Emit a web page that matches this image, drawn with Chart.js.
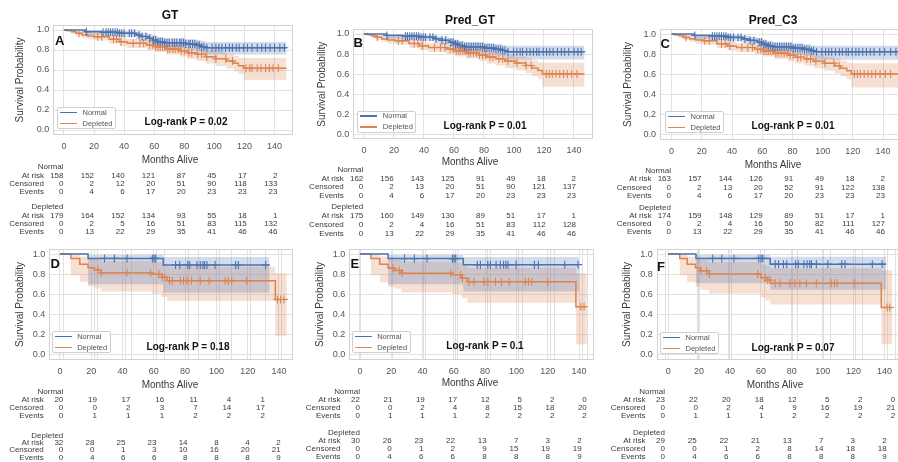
<!DOCTYPE html>
<html><head><meta charset="utf-8">
<script src="https://cdn.jsdelivr.net/npm/chart.js@4.4.1/dist/chart.umd.min.js"></script>
<style>
html,body{margin:0;padding:0;background:#fff;overflow:hidden;width:898px;height:462px;position:relative;font-family:"Liberation Sans",Arial,sans-serif;}
canvas.cv{position:absolute;}
.t{position:absolute;white-space:nowrap;color:#3a3a3a;line-height:14px;height:14px;}
.lg{position:absolute;border:1px solid #cfcfcf;border-radius:2px;background:rgba(255,255,255,0.85);box-sizing:border-box;}
.ln{position:absolute;height:1.5px;}
</style></head><body>
<script>
// ---------- shared axis / label data ----------
const xTicks=[0,20,40,60,80,100,120,140];
const yTicks=[0,0.2,0.4,0.6,0.8,1.0];
const yTickLabels=['0.0','0.2','0.4','0.6','0.8','1.0'];
const rowNames=['At risk','Censored','Events'];
const groupNames=['Normal','Depleted'];
const panelIds=['A','B','C','D','E','F'];
const panelTitles={A:'GT',B:'Pred_GT',C:'Pred_C3'};
const pValues={A:'0.02',B:'0.01',C:'0.01',D:'0.18',E:'0.1',F:'0.07'};

// ---------- Panel A (GT) ----------
const A_normT=[0,14,25,36,48,51,56,59,62,66,81,88,91,94,148];
const A_normS=[1.0,0.983,0.977,0.967,0.95,0.935,0.917,0.90,0.883,0.873,0.86,0.847,0.833,0.823,0.823];
const A_normLo=[1.0,0.95,0.94,0.93,0.905,0.89,0.87,0.85,0.83,0.82,0.80,0.785,0.77,0.755,0.755];
const A_normHi=[1.0,1.0,0.995,0.99,0.98,0.97,0.96,0.945,0.93,0.92,0.91,0.90,0.89,0.88,0.88];
const A_normCens=[15,26,28,29.5,31,32.5,34,35.5,37,38.5,40,43.5,45,47,50,52,54.5,57,59.5,61,62.5,64,65.5,67,68.5,70,72,73.5,75,77,78,79.5,81,83,84,85.5,87,88.5,90,91.5,93,95,98.5,101,103,105,107.5,110,112,114.5,116.5,119.5,122,125,128.5,131.5,134,137,140,143.5,146.5];
const A_deplT=[0,2,5,8,12,16,20,30,37,42,55,61,68,77,82,88,94,101,108,113,116,119.5,148];
const A_deplS=[1.0,0.994,0.983,0.967,0.95,0.94,0.933,0.907,0.883,0.867,0.85,0.833,0.81,0.793,0.773,0.757,0.733,0.713,0.69,0.667,0.643,0.617,0.617];
const A_deplLo=[1.0,0.98,0.965,0.94,0.92,0.905,0.895,0.865,0.84,0.82,0.80,0.78,0.755,0.735,0.71,0.69,0.665,0.64,0.615,0.585,0.56,0.50,0.50];
const A_deplHi=[1.0,1.0,0.995,0.99,0.98,0.97,0.965,0.945,0.925,0.91,0.895,0.88,0.86,0.845,0.83,0.815,0.795,0.78,0.76,0.74,0.72,0.72,0.72];
const A_deplCens=[10,22.5,25,33,35,38,46,50.5,53,57,59,61,62.5,64,65.5,67,69,70.5,72.5,74,76,78,80,83,85,89,91.5,95,101,107.5,112,121,123.5,125,128.5,131,134,136.5,139,142.5];
const A_normRisk=[158,152,140,121,87,45,17,2], A_normCen=[0,2,12,20,51,90,118,133], A_normEvt=[0,4,6,17,20,23,23,23];
const A_deplRisk=[179,164,152,134,93,55,18,1], A_deplCen=[0,2,5,16,51,83,115,132], A_deplEvt=[0,13,22,29,35,41,46,46];

// ---------- Panel B (Pred_GT) ----------
const B_normT=[0,15,26,37,47,52,57,60,63,67,80,87,92,95,147];
const B_normS=[1.0,0.985,0.977,0.967,0.952,0.937,0.918,0.90,0.885,0.874,0.86,0.848,0.835,0.824,0.824];
const B_normLo=[1.0,0.952,0.94,0.93,0.908,0.89,0.87,0.85,0.832,0.82,0.80,0.785,0.77,0.745,0.745];
const B_normHi=[1.0,1.0,0.995,0.99,0.98,0.97,0.96,0.945,0.93,0.92,0.91,0.90,0.89,0.884,0.884];
const B_normCens=[15.4,27.7,29,30.5,32,33.5,35,36.5,38,39.5,41,44,46,48,52,54.5,58,59.5,61,62.5,64,65.5,67,68.5,70,71.5,73,74.5,76,77.5,79,80.5,82,83.5,85,86.5,88,89.5,91,92.5,94,96,99.7,101.9,104.1,105.7,108.5,110.7,112.9,115.1,116.7,119.5,121.7,123.9,126.1,129,131.6,133.8,136.5,140,142.6,144.8];
const B_deplT=[0,2,5,8,12,16,21,30,37,43,55,61,68,77,82,88,94,101,108,112,116,119,147];
const B_deplS=[1.0,0.994,0.983,0.967,0.95,0.94,0.933,0.905,0.882,0.866,0.85,0.832,0.81,0.79,0.77,0.753,0.73,0.71,0.686,0.662,0.636,0.601,0.601];
const B_deplLo=[1.0,0.98,0.965,0.94,0.92,0.905,0.895,0.862,0.838,0.82,0.80,0.778,0.753,0.73,0.707,0.686,0.66,0.636,0.61,0.58,0.55,0.475,0.475];
const B_deplHi=[1.0,1.0,0.995,0.99,0.98,0.97,0.965,0.944,0.924,0.91,0.895,0.88,0.86,0.843,0.826,0.81,0.79,0.775,0.755,0.735,0.715,0.714,0.714];
const B_deplCens=[9,23,25.5,33.5,36,39,47,51,54,57.5,59.5,61.5,63,64.5,66,67.5,69.5,71,73,75,77,79,81,84,86,90,92.5,96,102,108,111.5,121.5,123.5,125.5,128,130.5,133,135.5,138.5,142];
const B_normRisk=[162,156,143,125,91,49,18,2], B_normCen=[0,2,13,20,51,90,121,137], B_normEvt=[0,4,6,17,20,23,23,23];
const B_deplRisk=[175,160,149,130,89,51,17,1], B_deplCen=[0,2,4,16,51,83,112,128], B_deplEvt=[0,13,22,29,35,41,46,46];

// ---------- Panel C (Pred_C3) ----------
const C_normT=[0,15,26,37,47,52,57,60,63,67,80,87,92,95,152];
const C_normS=[1.0,0.985,0.977,0.967,0.952,0.937,0.918,0.90,0.885,0.874,0.86,0.848,0.835,0.825,0.825];
const C_normLo=[1.0,0.952,0.94,0.93,0.908,0.89,0.87,0.85,0.832,0.82,0.80,0.785,0.77,0.745,0.745];
const C_normHi=[1.0,1.0,0.995,0.99,0.98,0.97,0.96,0.945,0.93,0.92,0.91,0.90,0.89,0.885,0.885];
const C_normCens=[15.4,27,28.5,30,31.5,33,34.5,36,37.5,39,41,44,46,48.5,52,54.5,58,59.5,61,62.5,64,65.5,67,68.5,70,71.5,73,74.5,76,77.5,79,80.5,82,83.5,85,86.5,88,89.5,91,92.5,94,96,99.5,102,104,106,108.5,111,113,115.5,117,119.5,122,124,126.5,129,131.5,134,137.8,141,145,148.5];
const C_deplT=[0,2,5,8,12,16,21,30,37,43,55,61,68,77,82,88,94,101,108,112,116,119,152];
const C_deplS=[1.0,0.994,0.983,0.967,0.95,0.94,0.933,0.905,0.882,0.866,0.85,0.832,0.81,0.79,0.77,0.753,0.73,0.71,0.686,0.662,0.636,0.604,0.604];
const C_deplLo=[1.0,0.98,0.965,0.94,0.92,0.905,0.895,0.862,0.838,0.82,0.80,0.778,0.753,0.73,0.707,0.686,0.66,0.636,0.61,0.58,0.55,0.47,0.47];
const C_deplHi=[1.0,1.0,0.995,0.99,0.98,0.97,0.965,0.944,0.924,0.91,0.895,0.88,0.86,0.843,0.826,0.81,0.79,0.775,0.755,0.735,0.715,0.71,0.71];
const C_deplCens=[9.5,22,25,33,35.5,38.5,46.5,50.5,53.5,57,59,61,62.5,64,65.5,67,69,70.5,72.5,74.5,76.5,78.5,80.5,83.5,85.5,89.5,92,95.5,101.5,107.5,111,121,123,125,127.5,130,132.5,135,138,141.5,145];
const C_normRisk=[163,157,144,126,91,49,18,2], C_normCen=[0,2,13,20,52,91,122,138], C_normEvt=[0,4,6,17,20,23,23,23];
const C_deplRisk=[174,159,148,129,89,51,17,1], C_deplCen=[0,2,4,16,50,82,111,127], C_deplEvt=[0,13,22,29,35,41,46,46];

// ---------- Panel D ----------
const D_normT=[0,18,66,134];
const D_normS=[1.0,0.957,0.891,0.891];
const D_normLo=[1.0,0.70,0.62,0.62];
const D_normHi=[1.0,0.99,0.97,0.97];
const D_normCens=[28.5,34.8,42.9,59.1,60.2,61.2,73.9,76.6,81.7,83,87.6,89.7,91.4,92.5,94,99.2,112.3,114,131.5];
const D_deplT=[0,7,12.7,18,22,26.4,59,65,68.6,137.7,145];
const D_deplS=[1.0,0.957,0.90,0.864,0.842,0.815,0.799,0.769,0.736,0.55,0.55];
const D_deplLo=[1.0,0.79,0.726,0.68,0.66,0.63,0.61,0.575,0.535,0.19,0.19];
const D_deplHi=[1.0,0.995,0.975,0.955,0.945,0.93,0.92,0.90,0.875,0.81,0.81];
const D_deplCens=[24.3,26.4,42.9,58,63.3,65.5,67,70,71.8,77,79,81.3,84,89.7,95.4,105.6,107.7,109.8,119.3,139,141,143.2];
const D_normRisk=[20,19,17,16,11,4,1], D_normCen=[0,0,2,3,7,14,17], D_normEvt=[0,1,1,1,2,2,2];
const D_deplRisk=[32,28,25,23,14,8,4,2], D_deplCen=[0,0,1,3,10,16,20,21], D_deplEvt=[0,4,6,6,8,8,8,9];

// ---------- Panel E ----------
const E_normT=[0,18,66,140];
const E_normS=[1.0,0.955,0.895,0.895];
const E_normLo=[1.0,0.70,0.63,0.63];
const E_normHi=[1.0,0.99,0.97,0.97];
const E_normCens=[28.5,34.8,42.9,59.1,60.2,61.2,75,77,81.7,83.4,87,89.7,91.8,93.3,94.6,99.7,111.5,114,130.9,139.4];
const E_deplT=[0,7,12.7,18,22,26.4,59,65,68.6,138,145];
const E_deplS=[1.0,0.957,0.90,0.86,0.838,0.81,0.795,0.762,0.726,0.478,0.478];
const E_deplLo=[1.0,0.79,0.72,0.675,0.655,0.62,0.605,0.565,0.518,0.105,0.105];
const E_deplHi=[1.0,0.995,0.975,0.952,0.942,0.925,0.915,0.895,0.865,0.81,0.81];
const E_deplCens=[21.1,25.3,27,58,64.4,65.5,69.7,72.8,79.2,81.7,86.6,90.4,95.4,105.6,107.7,109.8,120,141.1,143.2];
const E_normRisk=[22,21,19,17,12,5,2,0], E_normCen=[0,0,2,4,8,15,18,20], E_normEvt=[0,1,1,1,2,2,2,2];
const E_deplRisk=[30,26,23,22,13,7,3,2], E_deplCen=[0,0,1,2,9,15,19,19], E_deplEvt=[0,4,6,6,8,8,8,9];

// ---------- Panel F ----------
const F_normT=[0,18,66,141];
const F_normS=[1.0,0.957,0.90,0.90];
const F_normLo=[1.0,0.71,0.645,0.645];
const F_normHi=[1.0,0.99,0.974,0.974];
const F_normCens=[28.8,34.7,42.6,58.6,60.1,61.2,69.3,71.4,74.6,76.7,82.5,84.2,87.8,89.9,91.6,92.7,95.9,103.3,112.3,114.4,132.1,138.5];
const F_deplT=[0,7.5,12.3,17.7,21,26.5,60,63,66.1,137.9,145];
const F_deplS=[1.0,0.955,0.90,0.865,0.835,0.802,0.766,0.74,0.71,0.47,0.47];
const F_deplLo=[1.0,0.79,0.72,0.675,0.645,0.61,0.57,0.54,0.50,0.105,0.105];
const F_deplHi=[1.0,0.995,0.975,0.955,0.94,0.92,0.90,0.885,0.86,0.84,0.84];
const F_deplCens=[21.3,24.9,26.6,58,62.9,64.4,66,69.3,72.4,78.8,82,85.2,89.5,95.9,105.5,107.6,109.3,120.4,141.7,143.4];
const F_normRisk=[23,22,20,18,12,5,2,0], F_normCen=[0,0,2,4,9,16,19,21], F_normEvt=[0,1,1,1,2,2,2,2];
const F_deplRisk=[29,25,22,21,13,7,3,2], F_deplCen=[0,0,1,2,8,14,18,18], F_deplEvt=[0,4,6,6,8,8,8,9];

const DATA={
 A:{n:[A_normT,A_normS,A_normLo,A_normHi,A_normCens],d:[A_deplT,A_deplS,A_deplLo,A_deplHi,A_deplCens],tn:[A_normRisk,A_normCen,A_normEvt],td:[A_deplRisk,A_deplCen,A_deplEvt]},
 B:{n:[B_normT,B_normS,B_normLo,B_normHi,B_normCens],d:[B_deplT,B_deplS,B_deplLo,B_deplHi,B_deplCens],tn:[B_normRisk,B_normCen,B_normEvt],td:[B_deplRisk,B_deplCen,B_deplEvt]},
 C:{n:[C_normT,C_normS,C_normLo,C_normHi,C_normCens],d:[C_deplT,C_deplS,C_deplLo,C_deplHi,C_deplCens],tn:[C_normRisk,C_normCen,C_normEvt],td:[C_deplRisk,C_deplCen,C_deplEvt]},
 D:{n:[D_normT,D_normS,D_normLo,D_normHi,D_normCens],d:[D_deplT,D_deplS,D_deplLo,D_deplHi,D_deplCens],tn:[D_normRisk,D_normCen,D_normEvt],td:[D_deplRisk,D_deplCen,D_deplEvt]},
 E:{n:[E_normT,E_normS,E_normLo,E_normHi,E_normCens],d:[E_deplT,E_deplS,E_deplLo,E_deplHi,E_deplCens],tn:[E_normRisk,E_normCen,E_normEvt],td:[E_deplRisk,E_deplCen,E_deplEvt]},
 F:{n:[F_normT,F_normS,F_normLo,F_normHi,F_normCens],d:[F_deplT,F_deplS,F_deplLo,F_deplHi,F_deplCens],tn:[F_normRisk,F_normCen,F_normEvt],td:[F_deplRisk,F_deplCen,F_deplEvt]}
};

// ---------- layout (positions only) ----------
const LAYOUT={
 A:{plot:[53.3,25,294.5,135],xr:[-7.07,152.2],yTitleX:20,title:[170,15],letter:[55,41],legend:[57,107],lr:[186,121.7],months:[170,160],
    tab:{nY:167.3,dY:207.3,gapN:8.2,gapD:8.3,nX0:63.5,nDx:30.55,dX0:63.5,dDx:30.55},extra:false},
 B:{plot:[353.3,29,595,139.3],xr:[-7.07,152.6],yTitleX:321.7,title:[470,20],letter:[353.5,43],legend:[357.3,110.5],lr:[485,125.7],months:[470,162],
    tab:{nY:170,dY:207.3,gapN:8.6,gapD:9,nX0:363.3,nDx:30.39,dX0:363.3,dDx:30.39},extra:false},
 C:{plot:[660,29,903,140],xr:[-7.68,151.8],yTitleX:628.3,title:[773,20],letter:[660.5,43.5],legend:[665,111],lr:[793,125.7],months:[773,165],
    tab:{nY:170.7,dY:208.3,gapN:8.5,gapD:7.9,nX0:671,nDx:30.57,dX0:671,dDx:30.57},extra:false},
 D:{plot:[49.3,249,295,360],xr:[-6.78,148.9],yTitleX:20,letter:[50.5,264],legend:[51.7,331],lr:[188,346.7],months:[170,385],
    tab:{nY:392.3,dY:435.7,gapN:7.8,gapD:7.3,nX0:63.3,nDx:33.6,dX0:63.3,dDx:31.06},extra:true},
 E:{plot:[349.3,249,596,360],xr:[-6.78,149.5],yTitleX:320,letter:[350.5,264],legend:[351.7,331],lr:[485,346],months:[470,383.3],
    tab:{nY:392.3,dY:433.3,gapN:7.8,gapD:7.8,nX0:360,nDx:32.4,dX0:360,dDx:31.67},extra:true},
 F:{plot:[656.7,249,903,360],xr:[-7.42,150.6],yTitleX:626.7,letter:[657,267],legend:[660,332],lr:[793,348],months:[775,385],
    tab:{nY:392.3,dY:433.3,gapN:7.8,gapD:7.8,nX0:665,nDx:32.9,dX0:665,dDx:31.67},extra:true}
};

const BLUE='#4C72B0', ORANGE='#DD8452';
const BLUE_BAND='rgba(76,114,176,0.25)', ORANGE_BAND='rgba(221,132,82,0.25)';
const FONT='"Liberation Sans", Arial, sans-serif';
Chart.defaults.font.family=FONT;

function stepVal(T,S,x){let v=S[0];for(let i=0;i<T.length;i++){if(T[i]<=x)v=S[i];else break;}return v;}
function pts(T,V){return T.map((t,i)=>({x:t,y:V[i]}));}

function txt(x,y,s,o){
  o=o||{};
  const d=document.createElement('div');d.className='t';d.textContent=s;
  d.style.fontSize=(o.size||9)+'px';d.style.top=(y-7)+'px';
  if(o.align==='center'){d.style.left=(x-150)+'px';d.style.width='300px';d.style.textAlign='center';}
  else if(o.align==='right'){d.style.left=(x-150)+'px';d.style.width='150px';d.style.textAlign='right';}
  else d.style.left=x+'px';
  if(o.bold)d.style.fontWeight='bold';
  if(o.color)d.style.color=o.color;
  document.body.appendChild(d);
}

const framePlugin={id:'frame',beforeDatasetsDraw(chart,args,opts){
  const ctx=chart.ctx,a=chart.chartArea;ctx.save();
  ctx.strokeStyle='#e0e0e0';ctx.lineWidth=1;
  (opts.extra||[]).forEach(px=>{const x=Math.round(px)+0.5;ctx.beginPath();ctx.moveTo(x,a.top);ctx.lineTo(x,a.bottom);ctx.stroke();});
  ctx.strokeStyle='#d2d2d2';
  ctx.strokeRect(Math.round(a.left)+0.5,Math.round(a.top)+0.5,Math.round(a.right-a.left)-1,Math.round(a.bottom-a.top)-1);
  ctx.restore();
}};

panelIds.forEach(id=>{
  const L=LAYOUT[id],D=DATA[id];
  const [pl,pt,pr,pb]=L.plot;
  const boxL=Math.round(L.yTitleX-6), boxT=Math.round(pt)-20;
  const W=Math.round(pr+3-boxL), H=Math.round(pb+25-boxT);
  const yW=pl-boxL, xH=H-(pb-boxT), padR=W-(pr-boxL), padT=pt-boxT;
  const cv=document.createElement('canvas');cv.className='cv';cv.width=W;cv.height=H;
  cv.style.left=boxL+'px';cv.style.top=boxT+'px';document.body.appendChild(cv);

  const ds=[];
  const groups=[[D.n,BLUE,BLUE_BAND],[D.d,ORANGE,ORANGE_BAND]];
  groups.forEach(([g,col,band])=>{
    const [T,S,Lo,Hi,Cn]=g;
    ds.push({data:Cn.map(c=>({x:c,y:stepVal(T,S,c)})),showLine:false,pointStyle:'cross',pointRadius:4,pointBorderWidth:1.1,pointBorderColor:col,borderColor:col,order:1});
    ds.push({data:pts(T,S),stepped:'before',borderColor:col,borderWidth:1.5,pointRadius:0,fill:false,order:2});
    const loIdx=ds.length;
    ds.push({data:pts(T,Lo),stepped:'before',borderColor:'transparent',borderWidth:0,pointRadius:0,fill:false,order:3});
    ds.push({data:pts(T,Hi),stepped:'before',borderColor:'transparent',borderWidth:0,pointRadius:0,fill:{target:loIdx},backgroundColor:band,order:3});
  });

  let extra=[];
  if(L.extra){
    const tb=L.tab;
    D.tn[0].forEach((v,i)=>extra.push(tb.nX0+i*tb.nDx-boxL));
    D.td[0].forEach((v,i)=>extra.push(tb.dX0+i*tb.dDx-boxL));
  }

  new Chart(cv,{type:'line',data:{datasets:ds},plugins:[framePlugin],options:{
    responsive:false,animation:false,events:[],devicePixelRatio:1,
    layout:{padding:{top:padT,right:padR,left:0,bottom:0}},
    plugins:{legend:{display:false},tooltip:{enabled:false},frame:{extra:extra}},
    scales:{
      x:{type:'linear',min:L.xr[0],max:L.xr[1],
        afterBuildTicks:s=>{s.ticks=xTicks.map(v=>({value:v}));},
        afterFit:s=>{s.height=xH;},
        grid:{color:'#e2e2e2',drawTicks:false},border:{display:false},
        ticks:{padding:6,color:'#555',font:{size:9},maxRotation:0,callback:v=>String(v)}},
      y:{type:'linear',min:-0.05,max:1.05,
        afterBuildTicks:s=>{s.ticks=yTicks.map(v=>({value:v}));},
        afterFit:s=>{s.width=yW;},
        grid:{color:'#e2e2e2',drawTicks:false},border:{display:false},
        ticks:{padding:4,color:'#555',font:{size:9},callback:v=>yTickLabels[yTicks.indexOf(v)]},
        title:{display:true,text:'Survival Probability',color:'#3a3a3a',font:{size:10},padding:0}}
    }}});

  // texts
  if(panelTitles[id])txt(L.title[0],L.title[1],panelTitles[id],{size:12,bold:true,align:'center',color:'#111'});
  txt(L.letter[0],L.letter[1],id,{size:13,bold:true,color:'#111'});
  txt(L.lr[0],L.lr[1],'Log-rank P = '+pValues[id],{size:10,bold:true,align:'center',color:'#111'});
  txt(L.months[0],L.months[1],'Months Alive',{size:10,align:'center'});

  // legend
  const [lx,ly]=L.legend;
  const box=document.createElement('div');box.className='lg';
  box.style.left=lx+'px';box.style.top=ly+'px';box.style.width='59px';box.style.height='22px';
  document.body.appendChild(box);
  [[BLUE,groupNames[0],ly+5.5],[ORANGE,groupNames[1],ly+16.5]].forEach(([c,name,yy])=>{
    const l=document.createElement('div');l.className='ln';l.style.background=c;
    l.style.left=(lx+3)+'px';l.style.top=(yy-0.75)+'px';l.style.width='17px';document.body.appendChild(l);
    txt(lx+25.5,yy,name,{size:7.5,color:'#555'});
  });

  // at-risk tables
  const tb=L.tab;
  [[D.tn,tb.nY,tb.gapN,tb.nX0,tb.nDx,groupNames[0]],[D.td,tb.dY,tb.gapD,tb.dX0,tb.dDx,groupNames[1]]].forEach(([rows,y0,gap,x0,dx,name])=>{
    txt(x0,y0,name,{size:8,align:'right'});
    rows.forEach((vals,r)=>{
      const yy=y0+(r+1)*gap;
      txt(x0-19.5,yy,rowNames[r],{size:8,align:'right'});
      vals.forEach((v,i)=>txt(x0+i*dx,yy,String(v),{size:8,align:'right'}));
    });
  });
});
</script>
</body></html>
